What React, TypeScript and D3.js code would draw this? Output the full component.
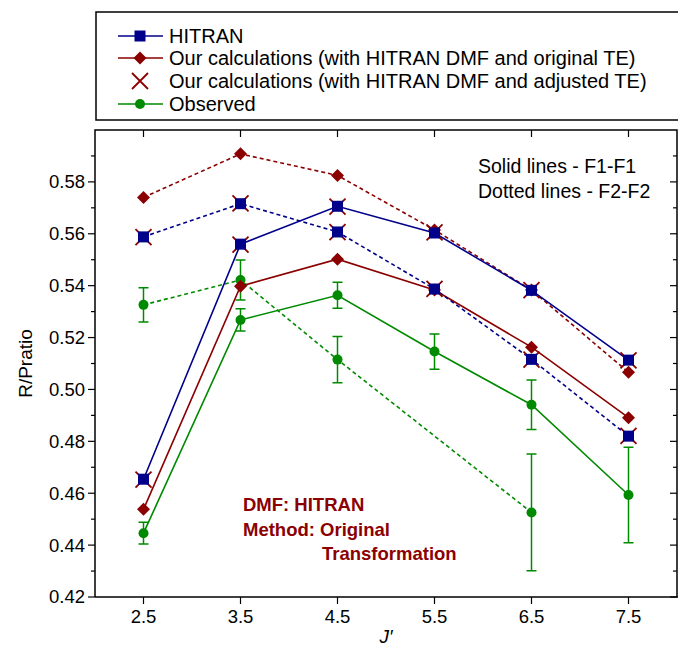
import React, { useRef, useEffect } from 'react';
import * as d3 from 'd3';

// J' values on the x axis
const jValues = [2.5, 3.5, 4.5, 5.5, 6.5, 7.5];

// HITRAN (solid = F1-F1, dotted = F2-F2)
const hitranF1 = [0.4654, 0.5560, 0.5706, 0.5603, 0.5382, 0.5113];
const hitranF2 = [0.5588, 0.5716, 0.5607, 0.5387, 0.5116, 0.4820];

// our calculations, HITRAN DMF + original TE
const origF1 = [0.4538, 0.5398, 0.5502, 0.5383, 0.5163, 0.4891];
const origF2 = [0.5740, 0.5908, 0.5825, 0.5615, 0.5383, 0.5066];

// our calculations, HITRAN DMF + adjusted TE (markers only)
const adjF1 = [0.4652, 0.5558, 0.5705, 0.5605, 0.5383, 0.5112];
const adjF2 = [0.5587, 0.5717, 0.5606, 0.5388, 0.5115, 0.4821];

// observed with error bars (null = no point)
const obsF1 = [0.4446, 0.5268, 0.5363, 0.5146, 0.4941, 0.4593];
const obsF1Err = [0.0042, 0.0043, 0.0050, 0.0068, 0.0095, 0.0184];
const obsF2: (number | null)[] = [0.5326, 0.5422, 0.5115, null, 0.4526, null];
const obsF2Err: (number | null)[] = [0.0066, 0.0077, 0.0089, null, 0.0225, null];

const yMajor = [0.42, 0.44, 0.46, 0.48, 0.50, 0.52, 0.54, 0.56, 0.58];
const yMinor = [0.43, 0.45, 0.47, 0.49, 0.51, 0.53, 0.55, 0.57, 0.59];

const legendLabels = [
  'HITRAN',
  'Our calculations (with HITRAN DMF and original TE)',
  'Our calculations (with HITRAN DMF and adjusted TE)',
  'Observed',
];

const BLUE = '#00008b';
const RED = '#8b0000';
const GREEN = '#008a00';
const FONT = '"Liberation Sans", Arial, sans-serif';

type Pt = [number, number];

export default function App() {
  const svgRef = useRef<SVGSVGElement>(null);

  useEffect(() => {
    const svg = d3.select(svgRef.current);
    svg.selectAll('*').remove();

    const width = 678;
    const height = 648;
    const left = 95, right = 677, top = 130, bottom = 597;
    svg.attr('width', width).attr('height', height);

    const x = d3.scaleLinear().domain([2, 8]).range([left, right]);
    const y = d3.scaleLinear().domain([0.42, 0.60]).range([bottom, top]);

    const g = svg.append('g');

    // frame
    g.append('path')
      .attr('d', `M${left},${bottom}V${top}H${right}V${bottom}`)
      .attr('fill', 'none').attr('stroke', '#000').attr('stroke-width', 1.5);
    g.append('line').attr('x1', left).attr('x2', right + 2).attr('y1', bottom).attr('y2', bottom)
      .attr('stroke', '#000').attr('stroke-width', 1.5);

    // left / right ticks
    yMajor.forEach(v => {
      g.append('line').attr('x1', left - 7).attr('x2', left).attr('y1', y(v)).attr('y2', y(v))
        .attr('stroke', '#000').attr('stroke-width', 1.2);
      g.append('line').attr('x1', right - 7).attr('x2', right).attr('y1', y(v)).attr('y2', y(v))
        .attr('stroke', '#000').attr('stroke-width', 1.2);
      g.append('text').attr('x', left - 10).attr('y', y(v)).attr('dy', '0.35em')
        .attr('text-anchor', 'end').attr('font-family', FONT).attr('font-size', 18.5)
        .text(v.toFixed(2));
    });
    yMinor.forEach(v => {
      g.append('line').attr('x1', left - 4).attr('x2', left).attr('y1', y(v)).attr('y2', y(v))
        .attr('stroke', '#000').attr('stroke-width', 1.2);
      g.append('line').attr('x1', right - 4).attr('x2', right).attr('y1', y(v)).attr('y2', y(v))
        .attr('stroke', '#000').attr('stroke-width', 1.2);
    });

    // bottom / top ticks
    jValues.forEach(v => {
      g.append('line').attr('x1', x(v)).attr('x2', x(v)).attr('y1', bottom).attr('y2', bottom + 7)
        .attr('stroke', '#000').attr('stroke-width', 1.2);
      g.append('line').attr('x1', x(v)).attr('x2', x(v)).attr('y1', top).attr('y2', top + 7)
        .attr('stroke', '#000').attr('stroke-width', 1.2);
      g.append('text').attr('x', x(v)).attr('y', bottom + 26)
        .attr('text-anchor', 'middle').attr('font-family', FONT).attr('font-size', 18.5)
        .text(v.toFixed(1));
    });

    // axis titles
    g.append('text').attr('transform', `translate(32,${(top + bottom) / 2}) rotate(-90)`)
      .attr('text-anchor', 'middle').attr('font-family', FONT).attr('font-size', 19)
      .text('R/Pratio');
    g.append('text').attr('x', x(5)).attr('y', 643)
      .attr('text-anchor', 'middle').attr('font-family', FONT).attr('font-size', 19)
      .attr('font-style', 'italic').text('J′');

    const lineGen = d3.line<Pt>().x(d => x(d[0])).y(d => y(d[1]));
    const pts = (vals: (number | null)[]): Pt[] =>
      jValues.map((j, i) => [j, vals[i]] as [number, number | null])
        .filter(d => d[1] !== null) as Pt[];

    const drawLine = (vals: (number | null)[], color: string, dashed: boolean) => {
      g.append('path').attr('d', lineGen(pts(vals)) || '')
        .attr('fill', 'none').attr('stroke', color).attr('stroke-width', 1.6)
        .attr('stroke-dasharray', dashed ? '4,3' : null);
    };

    const square = (cx: number, cy: number, color: string) =>
      g.append('rect').attr('x', cx - 5.5).attr('y', cy - 5.5).attr('width', 11).attr('height', 11)
        .attr('fill', color);
    const diamond = (cx: number, cy: number, color: string) =>
      g.append('path').attr('d', `M${cx},${cy - 6.5}L${cx + 6.5},${cy}L${cx},${cy + 6.5}L${cx - 6.5},${cy}Z`)
        .attr('fill', color);
    const circle = (cx: number, cy: number, color: string) =>
      g.append('circle').attr('cx', cx).attr('cy', cy).attr('r', 5).attr('fill', color);
    const cross = (cx: number, cy: number, color: string) =>
      g.append('path').attr('d', `M${cx - 8},${cy - 8}L${cx + 8},${cy + 8}M${cx - 8},${cy + 8}L${cx + 8},${cy - 8}`)
        .attr('stroke', color).attr('stroke-width', 1.8).attr('fill', 'none');

    const errBars = (vals: (number | null)[], errs: (number | null)[], color: string) => {
      vals.forEach((v, i) => {
        const e = errs[i];
        if (v === null || e === null) return;
        const cx = x(jValues[i]);
        const y1 = y(v - e), y2 = y(v + e);
        g.append('path').attr('d', `M${cx},${y1}V${y2}M${cx - 5},${y1}H${cx + 5}M${cx - 5},${y2}H${cx + 5}`)
          .attr('stroke', color).attr('stroke-width', 1.5).attr('fill', 'none');
      });
    };

    // observed
    drawLine(obsF1, GREEN, false);
    drawLine(obsF2, GREEN, true);
    errBars(obsF1, obsF1Err, GREEN);
    errBars(obsF2, obsF2Err, GREEN);
    pts(obsF1).forEach(d => circle(x(d[0]), y(d[1]), GREEN));
    pts(obsF2).forEach(d => circle(x(d[0]), y(d[1]), GREEN));

    // our calculations original TE
    drawLine(origF1, RED, false);
    drawLine(origF2, RED, true);
    pts(origF1).forEach(d => diamond(x(d[0]), y(d[1]), RED));
    pts(origF2).forEach(d => diamond(x(d[0]), y(d[1]), RED));

    // HITRAN lines
    drawLine(hitranF1, BLUE, false);
    drawLine(hitranF2, BLUE, true);

    // adjusted TE crosses
    pts(adjF1).forEach(d => cross(x(d[0]), y(d[1]), RED));
    pts(adjF2).forEach(d => cross(x(d[0]), y(d[1]), RED));

    // HITRAN squares on top
    pts(hitranF1).forEach(d => square(x(d[0]), y(d[1]), BLUE));
    pts(hitranF2).forEach(d => square(x(d[0]), y(d[1]), BLUE));

    // annotations
    g.append('text').attr('x', 478).attr('y', 173).attr('font-family', FONT).attr('font-size', 19.5)
      .text('Solid lines - F1-F1');
    g.append('text').attr('x', 478).attr('y', 198).attr('font-family', FONT).attr('font-size', 19.5)
      .text('Dotted lines - F2-F2');
    const ann = g.append('text').attr('font-family', FONT).attr('font-size', 18.5)
      .attr('font-weight', 'bold').attr('fill', RED);
    ann.append('tspan').attr('x', 243).attr('y', 511).text('DMF: HITRAN');
    ann.append('tspan').attr('x', 243).attr('y', 536).text('Method: Original');
    ann.append('tspan').attr('x', 322).attr('y', 560).text('Transformation');

    // legend
    g.append('rect').attr('x', 96).attr('y', 12).attr('width', 600).attr('height', 108)
      .attr('fill', '#fff').attr('stroke', '#000').attr('stroke-width', 1.5);
    const legY = [36, 58, 81, 104];
    const legColors = [BLUE, RED, RED, GREEN];
    legendLabels.forEach((label, i) => {
      const ly = legY[i];
      const cx = 140;
      if (i !== 2) {
        g.append('line').attr('x1', 118).attr('x2', 163).attr('y1', ly).attr('y2', ly)
          .attr('stroke', legColors[i]).attr('stroke-width', 1.6);
      }
      if (i === 0) square(cx, ly, BLUE);
      if (i === 1) diamond(cx, ly, RED);
      if (i === 2) cross(cx, ly, RED);
      if (i === 3) circle(cx, ly, GREEN);
      g.append('text').attr('x', 169).attr('y', ly).attr('dy', '0.35em')
        .attr('font-family', FONT).attr('font-size', 20).text(label);
    });
  }, []);

  return <svg ref={svgRef} style={{ position: 'absolute', left: 0, top: 0 }} />;
}
